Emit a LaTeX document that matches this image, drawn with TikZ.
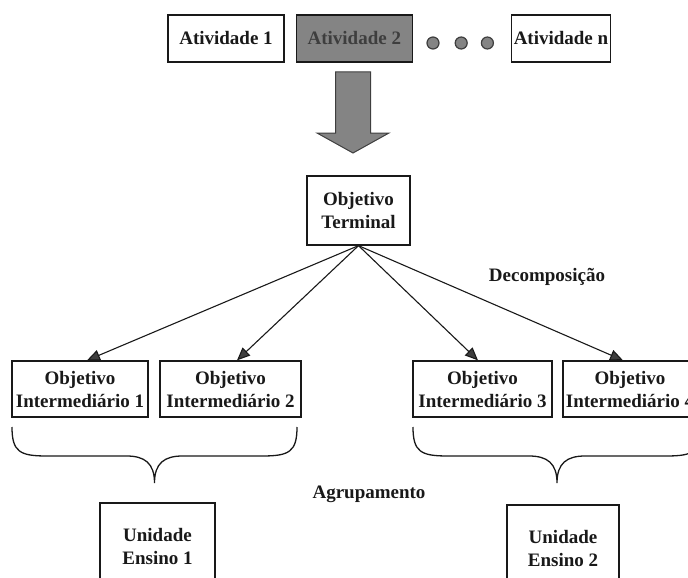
\documentclass[tikz,border=0pt]{standalone}
\definecolor{linhapreta}{RGB}{25,25,25}
\definecolor{cinzamedio}{RGB}{132,132,132}
\definecolor{cinzaescuro}{RGB}{62,62,62}
\usepackage{fontspec}
\setmainfont{Liberation Serif}
\usepackage{tikz}
\usetikzlibrary{arrows.meta,positioning,calc}

\begin{document}
\begin{tikzpicture}[
        x=1pt, y=-1pt,
        every node/.style={font=\fontsize{19}{23}\selectfont\bfseries, text=linhapreta},
        box/.style={rectangle, draw=linhapreta, line width=1.3pt, fill=white,
                    minimum height=47pt, inner sep=2pt, align=center},
        objbox/.style={box, minimum height=56pt},
        arrow/.style={-{Triangle[length=13pt,width=11pt,fill=cinzaescuro]},
                      line width=1.1pt, linhapreta},
        chave/.style={line width=1.3pt, linhapreta},
        dot/.style={circle, draw=cinzaescuro, fill=cinzamedio, line width=1.2pt,
                    minimum size=12pt, inner sep=0pt}
    ]
        \useasboundingbox (0,0) rectangle (688,578);
        \clip (0,0) rectangle (688,578);

        % linha de atividades
        \node[box, minimum width=116pt] (at1) at (226,38.5) {Atividade 1};
        \node[box, minimum width=116pt, right=11pt of at1,
              fill=cinzamedio, text=cinzaescuro] (at2) {Atividade 2};
        \node[dot] (d1) at (433,43) {};
        \node[dot, right=15pt of d1] (d2) {};
        \node[dot, right=13pt of d2] (d3) {};
        \node[box, minimum width=96pt] (atn) at (561,38.5) {Atividade n};

        \filldraw[fill=cinzamedio, draw=cinzaescuro, line width=1pt]
            (335.5,72) -- (370.5,72) -- (370.5,133) -- (389,133) -- (353,153)
            -- (317,133) -- (335.5,133) -- cycle;

        % decomposicao
        \node[box, minimum width=103pt, minimum height=69pt] (ot) at (358.5,210.5)
              {Objetivo\\Terminal};
        \node (dec) at (547,277) {Decomposição};

        \node[objbox, minimum width=136pt] (oi1) at (80,389)  {Objetivo\\Intermediário 1};
        \node[objbox, minimum width=141pt] (oi2) at (230.5,389) {Objetivo\\Intermediário 2};
        \node[objbox, minimum width=139pt] (oi3) at (482.5,389) {Objetivo\\Intermediário 3};
        \node[objbox, minimum width=134pt] (oi4) at (630,389) {Objetivo\\Intermediário 4};

        \draw[arrow] (ot.south) -- ([xshift=7pt]oi1.north);
        \draw[arrow] (ot.south) -- ([xshift=6.5pt]oi2.north);
        \draw[arrow] (ot.south) -- ([xshift=-4.5pt]oi3.north);
        \draw[arrow] (ot.south) -- ([xshift=-7pt]oi4.north);

        % agrupamento
        \foreach \a/\m/\b in {12/154.5/297, 413/557/701}
            \draw[chave] (\a,427) .. controls (\a,452) and (\a+8,456) .. (\a+35,456)
                -- (\m-28,456) .. controls (\m-10,456) and (\m,463) .. (\m,483)
                .. controls (\m,463) and (\m+10,456) .. (\m+28,456)
                -- (\b-35,456) .. controls (\b-8,456) and (\b,452) .. (\b,427);

        \node (agr) at (369,494) {Agrupamento};

        \node[box, minimum width=115pt, minimum height=86pt] (ue1) at (157.5,546)
              {Unidade\\Ensino 1};
        \node[box, minimum width=112pt, minimum height=86pt] (ue2) at (563,548)
              {Unidade\\Ensino 2};
    \end{tikzpicture}
\end{document}
